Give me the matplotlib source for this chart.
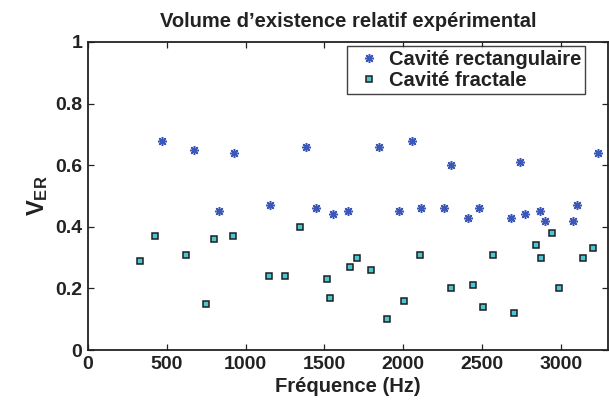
import numpy as np
import matplotlib
matplotlib.use('Agg')
import matplotlib.pyplot as plt

plt.rcParams['font.family'] = ['Liberation Sans', 'DejaVu Sans']
plt.rcParams['font.weight'] = 'bold'
plt.rcParams['mathtext.fontset'] = 'custom'
plt.rcParams['mathtext.rm'] = 'Liberation Sans:bold'
plt.rcParams['mathtext.bf'] = 'Liberation Sans:bold'
plt.rcParams['mathtext.it'] = 'Liberation Sans:bold'

# Données
f_rect = [468, 675, 830, 928, 1152, 1383, 1444, 1552, 1647, 1849, 1976, 2058, 2114,
          2257, 2304, 2414, 2484, 2685, 2740, 2772, 2865, 2897, 3079, 3100, 3238]
v_rect = [0.68, 0.65, 0.45, 0.64, 0.47, 0.66, 0.46, 0.44, 0.45, 0.66, 0.45, 0.68, 0.46,
          0.46, 0.60, 0.43, 0.46, 0.43, 0.61, 0.44, 0.45, 0.42, 0.42, 0.47, 0.64]

f_frac = [330, 428, 620, 748, 799, 917, 1146, 1247, 1347, 1516, 1536, 1660, 1706, 1796,
          1900, 2008, 2105, 2306, 2446, 2505, 2571, 2705, 2842, 2876, 2942, 2990, 3141, 3204]
v_frac = [0.29, 0.37, 0.31, 0.15, 0.36, 0.37, 0.24, 0.24, 0.40, 0.23, 0.17, 0.27, 0.30, 0.26,
          0.10, 0.16, 0.31, 0.20, 0.21, 0.14, 0.31, 0.12, 0.34, 0.30, 0.38, 0.20, 0.30, 0.33]

xticks = [0, 500, 1000, 1500, 2000, 2500, 3000]
yticks = [0, 0.2, 0.4, 0.6, 0.8, 1]
ylabels = ['0', '0.2', '0.4', '0.6', '0.8', '1']

fig = plt.figure(figsize=(6.09, 4.07), dpi=100)
ax = fig.add_axes([0.1445, 0.140, 0.854, 0.757])

# astérisque type MATLAB (8 branches)
ax.plot(f_rect, v_rect, marker=(8, 2, 0), color='#3b58b8', markersize=6.5, markeredgewidth=1.1,
        linestyle='none', label='Cavité rectangulaire')
ax.plot(f_frac, v_frac, 's', markerfacecolor='#4cc6d6', markeredgecolor='#1e1e1e',
        markeredgewidth=1.1, markersize=5, linestyle='none', label='Cavité fractale')

ax.set_xlim(0, 3300)
ax.set_ylim(0, 1)
ax.set_xticks(xticks)
ax.set_yticks(yticks)
ax.set_yticklabels(ylabels)
ax.tick_params(direction='in', top=True, right=True, labelsize=14, length=4, width=0.9, pad=4,
               colors='#222222')
for lab in ax.get_xticklabels() + ax.get_yticklabels():
    lab.set_fontweight('bold')
for s in ax.spines.values():
    s.set_linewidth(1.3)
    s.set_color('#222222')

ax.set_title("Volume d’existence relatif expérimental", fontsize=14.5, fontweight='bold',
             pad=11, color='#222222')
ax.set_xlabel('Fréquence (Hz)', fontsize=14.5, fontweight='bold', labelpad=3, color='#222222')
ax.set_ylabel(r'$\mathbf{V_{ER}}$', fontsize=17, labelpad=4, color='#222222')

leg = ax.legend(loc='upper right', bbox_to_anchor=(0.956, 0.988),
                prop={'weight': 'bold', 'size': 14.5}, frameon=True, fancybox=False,
                borderpad=0.2, handlelength=1.8, handletextpad=0.1, labelspacing=0.1,
                borderaxespad=0)
leg.get_frame().set_edgecolor('#111111')
leg.get_frame().set_linewidth(1.0)
for t in leg.get_texts():
    t.set_color('#222222')

plt.savefig('out.png', dpi=100)
